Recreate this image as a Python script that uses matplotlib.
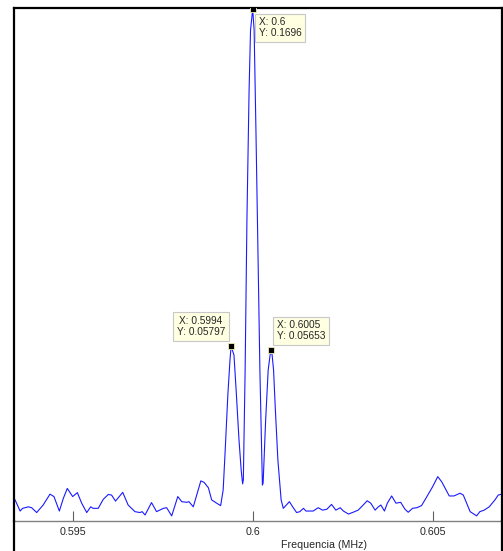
# espectro em torno de 0.6 MHz com tres data tips
import matplotlib
matplotlib.use("Agg")
import matplotlib.pyplot as plt
from matplotlib.lines import Line2D

plt.rcParams['font.family'] = ['Liberation Sans', 'DejaVu Sans']

freq = [0.59340, 0.59354, 0.59361, 0.59377, 0.59386, 0.59400, 0.59418, 0.59437, 0.59448, 0.59463,
        0.59474, 0.59485, 0.59500, 0.59513, 0.59525, 0.59539, 0.59550, 0.59557, 0.59571, 0.59585,
        0.59599, 0.59608, 0.59619, 0.59639, 0.59654, 0.59673, 0.59687, 0.59693, 0.59701, 0.59719,
        0.59733, 0.59752, 0.59761, 0.59775, 0.59792, 0.59803, 0.59817, 0.59823, 0.59835, 0.59856,
        0.59865, 0.59877, 0.59886, 0.59900, 0.59911, 0.59918, 0.59923, 0.59931, 0.59937, 0.59940,
        0.59948, 0.59954, 0.59962, 0.59968, 0.59972, 0.59974, 0.59979, 0.59984, 0.59990, 0.59994,
        0.60000, 0.60004, 0.60009, 0.60015, 0.60020, 0.60027, 0.60029, 0.60036, 0.60043, 0.60050,
        0.60054, 0.60058, 0.60063, 0.60070, 0.60079, 0.60085, 0.60102, 0.60111, 0.60122, 0.60131,
        0.60141, 0.60148, 0.60159, 0.60168, 0.60182, 0.60194, 0.60206, 0.60219, 0.60231, 0.60243,
        0.60252, 0.60266, 0.60279, 0.60293, 0.60307, 0.60318, 0.60328, 0.60340, 0.60349, 0.60356,
        0.60366, 0.60374, 0.60386, 0.60398, 0.60411, 0.60423, 0.60432, 0.60444, 0.60456, 0.60469,
        0.60483, 0.60500, 0.60514, 0.60525, 0.60546, 0.60559, 0.60576, 0.60585, 0.60604, 0.60622,
        0.60631, 0.60643, 0.60657, 0.60673, 0.60682, 0.60692]
amp = [0.0070, 0.0033, 0.0042, 0.0047, 0.0044, 0.0028, 0.0053, 0.0089, 0.0081, 0.0033,
       0.0075, 0.0108, 0.0081, 0.0094, 0.0059, 0.0028, 0.0047, 0.0042, 0.0042, 0.0072,
       0.0088, 0.0086, 0.0066, 0.0095, 0.0053, 0.0031, 0.0028, 0.0031, 0.0020, 0.0061,
       0.0031, 0.0042, 0.0044, 0.0017, 0.0081, 0.0064, 0.0062, 0.0064, 0.0047, 0.0133,
       0.0128, 0.0110, 0.0070, 0.0059, 0.0051, 0.0103, 0.0219, 0.0418, 0.0534, 0.05797,
       0.0550, 0.0434, 0.0268, 0.0169, 0.0123, 0.0136, 0.0500, 0.0998, 0.1428, 0.1627,
       0.1696, 0.1627, 0.1296, 0.0865, 0.0500, 0.0119, 0.0126, 0.0335, 0.0500, 0.05653,
       0.0550, 0.0500, 0.0368, 0.0202, 0.0070, 0.0042, 0.0064, 0.0047, 0.0028, 0.0031,
       0.0042, 0.0033, 0.0033, 0.0033, 0.0044, 0.0036, 0.0039, 0.0055, 0.0036, 0.0044,
       0.0033, 0.0023, 0.0029, 0.0036, 0.0053, 0.0067, 0.0059, 0.0036, 0.0047, 0.0053,
       0.0033, 0.0059, 0.0083, 0.0059, 0.0062, 0.0039, 0.0029, 0.0042, 0.0044, 0.0051,
       0.0079, 0.0114, 0.0147, 0.0130, 0.0083, 0.0083, 0.0092, 0.0086, 0.0031, 0.0017,
       0.0031, 0.0036, 0.0047, 0.0070, 0.0086, 0.0089]

tick_pos = [0.595, 0.6, 0.605]
tick_labels = ['0.595', '0.6', '0.605']

# data tips (x, y, texto)
tip_x = [0.6, 0.5994, 0.6005]
tip_y = [0.1696, 0.05797, 0.05653]
tip_txt = ['X: 0.6\nY: 0.1696', 'X: 0.5994\nY: 0.05797', 'X: 0.6005\nY: 0.05653']

fig = plt.figure(figsize=(5.03, 5.51), dpi=100)
ax = fig.add_axes([14 / 503, 30 / 551, 488 / 503, 513 / 551])

ax.plot(freq, amp, color='#1a1aff', lw=0.8)
ax.set_xlim(0.59337, 0.606925)
ax.set_ylim(0, 0.17)

ax.set_xticks(tick_pos)
ax.set_xticklabels(tick_labels)
ax.set_yticks([])
ax.tick_params(axis='x', direction='in', length=7.5, width=0.8, color='#606060',
               labelsize=7.7, labelcolor='#262626', pad=4)

for s in ['top', 'left', 'right']:
    ax.spines[s].set_color('black')
    ax.spines[s].set_linewidth(1.6)
ax.spines['bottom'].set_color('#808080')
ax.spines['bottom'].set_linewidth(1.0)

ax.set_xlabel('Frequencia (MHz)', fontsize=7.7, color='#262626')
ax.xaxis.set_label_coords(0.635, -0.047)
ax.xaxis.label.set_va('center')

# moldura continua abaixo do eixo (recorte)
for xf in [14 / 503, 502 / 503]:
    fig.add_artist(Line2D([xf, xf], [0, 30 / 551], color='black', lw=1.6))

offsets = [(6, -8), (-6, 9), (6, 9)]
aligns = [('left', 'top', 'left'), ('right', 'bottom', 'center'), ('left', 'bottom', 'left')]
for x, y, t, off, al in zip(tip_x, tip_y, tip_txt, offsets, aligns):
    ax.plot(x, y, 's', color='black', ms=4.5, mec='#f5efb0', mew=0.6, zorder=5)
    ax.annotate(t, xy=(x, y), xytext=off, textcoords='offset pixels',
                ha=al[0], va=al[1], multialignment=al[2], fontsize=7.3, color='#262626',
                linespacing=1.15,
                bbox=dict(boxstyle='square,pad=0.35', fc='#ffffe1', ec='#c8c8c8', lw=0.8),
                zorder=6)

fig.savefig('out.png', dpi=100)
